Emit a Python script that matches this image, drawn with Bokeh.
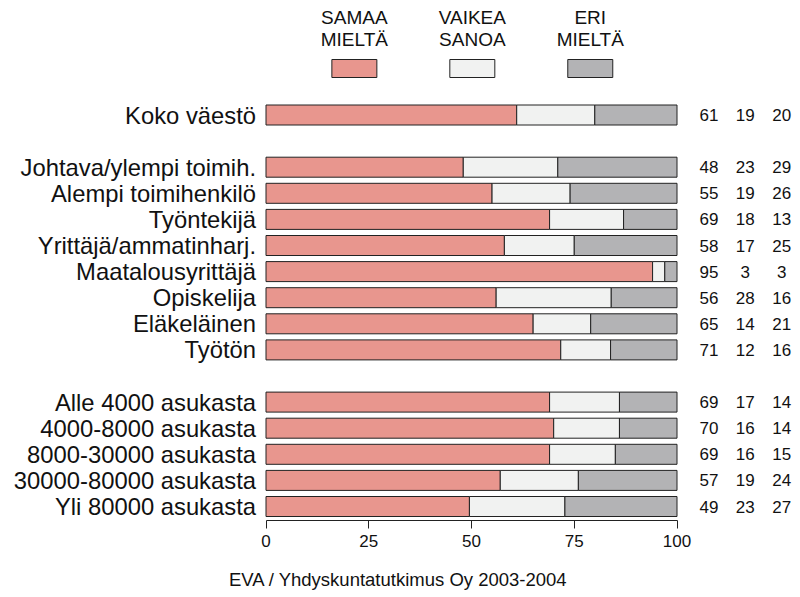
from bokeh.plotting import figure
from bokeh.models import Range1d, FixedTicker, ColumnDataSource, LinearAxis
from bokeh.core.properties import value
from bokeh.embed import file_html
from bokeh.resources import INLINE

# ---- data ----
groups = ["Koko väestö", "Johtava/ylempi toimih.", "Alempi toimihenkilö", "Työntekijä",
          "Yrittäjä/ammatinharj.", "Maatalousyrittäjä", "Opiskelija", "Eläkeläinen", "Työtön",
          "Alle 4000 asukasta", "4000-8000 asukasta", "8000-30000 asukasta",
          "30000-80000 asukasta", "Yli 80000 asukasta"]
samaa = [61, 48, 55, 69, 58, 95, 56, 65, 71, 69, 70, 69, 57, 49]
vaikea = [19, 23, 19, 18, 17, 3, 28, 14, 12, 17, 16, 16, 19, 23]
eri = [20, 29, 26, 13, 25, 3, 16, 21, 16, 14, 14, 15, 24, 27]
series_names = ["SAMAA\nMIELTÄ", "VAIKEA\nSANOA", "ERI\nMIELTÄ"]
x_ticks = [0, 25, 50, 75, 100]
footer = "EVA / Yhdyskuntatutkimus Oy 2003-2004"

# ---- layout / style ----
rows = [0, 2, 3, 4, 5, 6, 7, 8, 9, 11, 12, 13, 14, 15]
colors = ["#E8968E", "#F1F2F1", "#B3B3B5"]
FONT = "Liberation Sans"
W, H = 796, 595
PX = 4.11
X0 = 265.5
ROW0 = 114.5
PITCH = 26.1
FRAME_H = 520
x_start = -X0 / PX
x_end = (W - X0) / PX
y_top = -ROW0 / PITCH
y_bot = (FRAME_H - ROW0) / PITCH

def ypos(px):
    return (px - ROW0) / PITCH

p = figure(width=W, height=H, x_range=Range1d(x_start, x_end), y_range=Range1d(y_bot, y_top),
           output_backend="svg", toolbar_location=None,
           min_border_left=0, min_border_right=0, min_border_top=0,
           min_border_bottom=H - FRAME_H, y_axis_location=None)
p.xgrid.visible = False
p.ygrid.visible = False
p.outline_line_color = None
p.background_fill_color = "white"
p.border_fill_color = "white"

# bars (normalised to 100 %)
s1, s2, s3 = [], [], []
for a, b, c in zip(samaa, vaikea, eri):
    t = a + b + c
    s1.append(100.0 * a / t)
    s2.append(100.0 * (a + b) / t)
    s3.append(100.0)
src = ColumnDataSource(dict(y=rows, z=[0] * len(rows), s1=s1, s2=s2, s3=s3,
                            label=groups,
                            n1=[str(v) for v in samaa], n2=[str(v) for v in vaikea],
                            n3=[str(v) for v in eri]))
BH = 20 / PITCH
p.hbar(y="y", left="z", right="s1", height=BH, source=src, fill_color=colors[0],
       line_color="#222222", line_width=1)
p.hbar(y="y", left="s1", right="s2", height=BH, source=src, fill_color=colors[1],
       line_color="#222222", line_width=1)
p.hbar(y="y", left="s2", right="s3", height=BH, source=src, fill_color=colors[2],
       line_color="#222222", line_width=1)

# row labels
p.text(x="z", y="y", text="label", source=src, x_offset=-10, text_align="right",
       text_baseline="middle", text_font=value(FONT), text_font_size="23.8px", text_color="#111111")

# numbers on the right
for col, xpos in zip(["n1", "n2", "n3"], [107.8, 116.6, 125.5]):
    p.text(x=xpos, y="y", text=col, source=src, text_align="center", text_baseline="middle",
           text_font=value(FONT), text_font_size="17px", text_color="#111111")

# legend (custom, labels above swatches)
lx = [21.5, 50.2, 78.9]
p.rect(x=lx, y=[ypos(68)] * 3, width=45 / PX, height=18 / PITCH, fill_color=colors,
       line_color="#222222", line_width=1)
line1 = [n.split("\n")[0] for n in series_names]
line2 = [n.split("\n")[1] for n in series_names]
p.text(x=lx, y=[ypos(17)] * 3, text=line1, text_align="center", text_baseline="middle",
       text_font=value(FONT), text_font_size="19px", text_color="#111111")
p.text(x=lx, y=[ypos(39)] * 3, text=line2, text_align="center", text_baseline="middle",
       text_font=value(FONT), text_font_size="19px", text_color="#111111")

# x axis
ax = p.xaxis[0]
ax.ticker = FixedTicker(ticks=x_ticks)
ax.bounds = (0, 100)
ax.minor_tick_line_color = None
ax.major_tick_in = 0
ax.major_tick_out = 8
ax.major_label_standoff = 6
ax.axis_line_color = "#222222"
ax.major_tick_line_color = "#222222"
ax.major_label_text_font = FONT
ax.major_label_text_font_size = "17px"
ax.major_label_text_color = "#111111"

# footer as label of a bare second axis (full width, centered)
fax = LinearAxis(ticker=FixedTicker(ticks=[]), axis_line_color=None,
                 major_tick_line_color=None, minor_tick_line_color=None,
                 major_tick_in=0, major_tick_out=0, minor_tick_in=0, minor_tick_out=0,
                 axis_label=footer, axis_label_standoff=19,
                 axis_label_text_font=FONT, axis_label_text_font_size="18.5px",
                 axis_label_text_font_style="normal", axis_label_text_color="#111111")
p.add_layout(fax, "below")

open("out.html", "w").write(file_html(p, INLINE))
